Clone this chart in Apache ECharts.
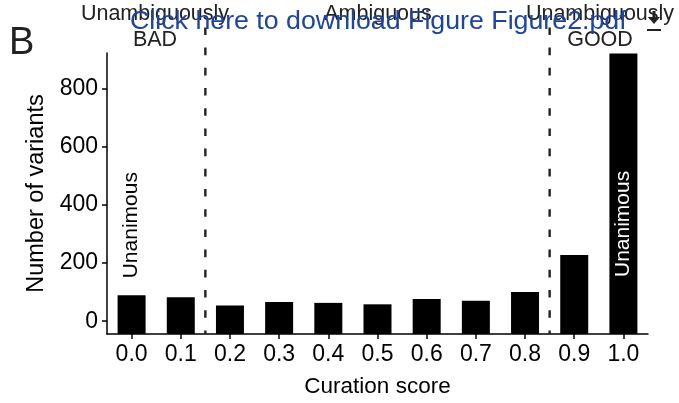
<!DOCTYPE html>
<html>
<head>
<meta charset="utf-8">
<script src="https://cdn.jsdelivr.net/npm/echarts@6/dist/echarts.min.js"></script>
<style>
html,body{margin:0;padding:0;background:#fff;}
#c{width:679px;height:403px;}
</style>
</head>
<body>
<div id="c"></div>
<script>
// ---- data ----
const categories = ['0.0','0.1','0.2','0.3','0.4','0.5','0.6','0.7','0.8','0.9','1.0'];
const counts = [89, 82, 54, 66, 63, 58, 76, 70, 100, 228, 920];
const barNotes = ['Unanimous','','','','','','','','','','Unanimous'];
const yTickValues = [0, 200, 400, 600, 800];
const thresholds = [0.15, 0.85];
const thresholdSpan = [-44, 1010];
const yRange = [-44, 922];
const scoreRange = [-0.05, 1.05];

const FONT = 'Liberation Sans, Arial, Helvetica, sans-serif';
const chart = echarts.init(document.getElementById('c'), null, {renderer: 'canvas'});

const barData = counts.map((v, i) => {
  const item = {value: v};
  if (barNotes[i]) {
    const inside = v > 400;
    item.label = {
      show: true,
      formatter: barNotes[i],
      rotate: 90,
      position: inside ? 'insideBottom' : 'top',
      distance: inside ? 57 : 17,
      align: 'left',
      verticalAlign: 'middle',
      color: inside ? '#ffffff' : '#000000',
      fontSize: 21,
      fontFamily: FONT
    };
  }
  return item;
});

const thresholdSeries = thresholds.map(t => ({
  type: 'line',
  xAxisIndex: 1,
  yAxisIndex: 0,
  data: thresholdSpan.slice().reverse().map(y => [t, y]),
  symbol: 'none',
  clip: false,
  silent: true,
  z: 5,
  lineStyle: {color: '#222222', width: 2.4, type: [7.6, 12.6]}
}));

chart.setOption({
  animation: false,
  textStyle: {fontFamily: FONT},
  grid: {left: 107, right: 31, top: 53, bottom: 61, containLabel: false},
  xAxis: [{
    type: 'category',
    data: categories,
    boundaryGap: true,
    axisLine: {show: true, onZero: false, lineStyle: {color: '#000', width: 1.5}},
    axisTick: {show: true, alignWithLabel: true, length: 5, lineStyle: {color: '#000', width: 1.5}},
    axisLabel: {color: '#000', fontSize: 23, margin: 9, fontFamily: FONT},
    splitLine: {show: false},
    name: 'Curation score',
    nameLocation: 'middle',
    nameGap: 41,
    nameTextStyle: {color: '#000', fontSize: 22.5, fontFamily: FONT}
  }, {
    type: 'value',
    min: scoreRange[0],
    max: scoreRange[1],
    show: false
  }],
  yAxis: {
    type: 'value',
    min: yRange[0],
    max: yRange[1],
    startValue: yRange[0],
    axisLine: {show: true, onZero: false, lineStyle: {color: '#000', width: 1.5}},
    axisTick: {show: true, length: 5, customValues: yTickValues, lineStyle: {color: '#000', width: 1.5}},
    axisLabel: {color: '#000', fontSize: 23, margin: 9, customValues: yTickValues, fontFamily: FONT},
    splitLine: {show: false},
    name: 'Number of variants',
    nameLocation: 'middle',
    nameGap: 50,
    nameTextStyle: {color: '#000', fontSize: 23.5, fontFamily: FONT}
  },
  series: [{
    type: 'bar',
    data: barData,
    barWidth: 28,
    itemStyle: {color: '#000000'},
    silent: true
  }].concat(thresholdSeries),
  graphic: [
    {type: 'text', left: 9, top: 25, style: {text: 'B', fontSize: 38, fontFamily: FONT, fill: '#222'}},
    {type: 'text', x: 155, y: 27, style: {text: 'Unambiguously\nBAD', fontSize: 21.5, lineHeight: 26, fontFamily: FONT, fill: '#222', align: 'center', verticalAlign: 'middle'}},
    {type: 'text', x: 378, y: 14, style: {text: 'Ambiguous', fontSize: 21.5, fontFamily: FONT, fill: '#222', align: 'center', verticalAlign: 'middle'}},
    {type: 'text', x: 600, y: 27, style: {text: 'Unambiguously\nGOOD', fontSize: 21.5, lineHeight: 26, fontFamily: FONT, fill: '#222', align: 'center', verticalAlign: 'middle'}},
    {type: 'text', x: 130, y: 22, scaleX: 1.07, scaleY: 1.05, style: {text: 'Click here to download Figure Figure2.pdf', fontSize: 25, fontFamily: FONT, fill: '#1d44a3', align: 'left', verticalAlign: 'middle'}},
    {type: 'group', x: 654, y: 0, children: [
      {type: 'rect', shape: {x: -1.5, y: 11, width: 3, height: 7}, style: {fill: '#222'}},
      {type: 'polygon', shape: {points: [[-6, 17], [6, 17], [0, 24]]}, style: {fill: '#222'}},
      {type: 'rect', shape: {x: -7, y: 29, width: 14, height: 2}, style: {fill: '#222'}}
    ]}
  ]
});
</script>
</body>
</html>
